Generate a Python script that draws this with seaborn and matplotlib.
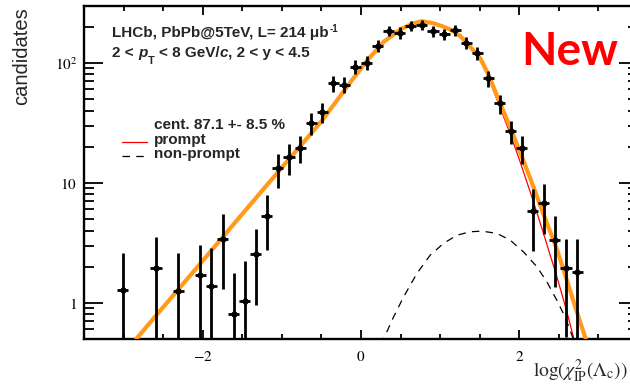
import numpy as np
import matplotlib
matplotlib.use("Agg")
import matplotlib.pyplot as plt
import matplotlib.ticker as mticker
from matplotlib.lines import Line2D
import seaborn as sns

# binned data: bin centres, weighted candidates, errors
bin_x = [-3.01, -2.59, -2.31, -2.03, -1.89, -1.75, -1.61, -1.47, -1.33, -1.19,
         -1.05, -0.91, -0.77, -0.63, -0.49, -0.35, -0.21, -0.07, 0.07, 0.21,
         0.35, 0.49, 0.63, 0.77, 0.91, 1.05, 1.19, 1.33, 1.47, 1.61,
         1.75, 1.89, 2.03, 2.17, 2.31, 2.45, 2.59, 2.73]
counts = [1.29, 1.96, 1.26, 1.70, 1.38, 3.40, 0.80, 1.03, 2.55, 5.31,
          13.2, 16.3, 19.6, 31.4, 39.0, 67.3, 65.6, 92.6, 100, 138.6,
          184.8, 177.8, 203.4, 206, 183.7, 173.4, 187.3, 146.8, 121.2, 74.1,
          45.9, 27.0, 19.4, 5.81, 6.74, 3.33, 1.96, 1.81]
errs = [1.32, 1.55, 1.32, 1.31, 1.48, 2.09, 0.96, 1.21, 1.59, 2.55,
        4.1, 4.6, 5.1, 6.6, 7.3, 10.0, 10.0, 12, 13, 16,
        19, 19, 20, 20, 19, 18, 19, 17, 15, 11,
        8.3, 6.0, 5.0, 3.1, 3.0, 1.98, 1.44, 1.59]
bin_half = 0.07

# fit components
total_x = [-2.84, -2.5, -2.0, -1.5, -1.0, -0.5, -0.14, 0.08, 0.29, 0.5, 0.65, 0.77, 0.92, 1.04,
           1.13, 1.25, 1.38, 1.51, 1.61, 1.74, 1.89, 2.01, 2.16, 2.30, 2.475, 2.6, 2.72, 2.84]
total_y = [0.5, 0.92, 2.24, 5.5, 13.4, 32.5, 68, 105, 150, 190, 212, 222, 213, 200,
           189, 168, 136, 108, 80, 49, 28.5, 18.0, 10.0, 5.6, 2.8, 1.55, 0.87, 0.5]
prompt_x = [-2.84, -2.5, -2.0, -1.5, -1.0, -0.5, -0.14, 0.08, 0.29, 0.5, 0.65, 0.77, 0.92, 1.04,
            1.13, 1.25, 1.38, 1.51, 1.61, 1.74, 1.89, 2.01, 2.16, 2.30, 2.475, 2.6, 2.69]
prompt_y = [0.5, 0.92, 2.24, 5.5, 13.4, 32.5, 68, 105, 149, 189, 210, 220, 210, 197,
            186, 165, 132, 104, 76, 45.2, 25.1, 15.0, 7.6, 3.9, 1.65, 0.85, 0.5]
nonprompt_x = [0.25, 0.286, 0.41, 0.538, 0.707, 0.875, 1.043, 1.212, 1.38, 1.528, 1.717,
               1.885, 2.053, 2.222, 2.348, 2.475, 2.58, 2.664, 2.70]
nonprompt_y = [0.45, 0.5, 0.76, 1.12, 1.76, 2.50, 3.13, 3.66, 3.91, 3.96, 3.79,
               3.33, 2.66, 2.0, 1.50, 1.05, 0.76, 0.54, 0.47]

x_ticks = [-2, 0, 2]
x_labels = ["$-2$", "$0$", "$2$"]
y_ticks = [1, 10, 100]
y_labels = ["$1$", "$10$", "$10^{2}$"]

sns.set_style("ticks")
plt.rcParams["mathtext.fontset"] = "stix"
SANS = ["Liberation Sans", "DejaVu Sans"]

W, H = 630, 389
fig = plt.figure(figsize=(W / 100, H / 100), dpi=100)
ax = fig.add_axes([84 / W, 50 / H, 554 / W, 333.5 / H])
ax.set_yscale("log")

orange = "#ff9a1a"
sns.lineplot(x=prompt_x, y=prompt_y, ax=ax, color="red", lw=0.9, zorder=2)
sns.lineplot(x=total_x, y=total_y, ax=ax, color=orange, lw=3.0, zorder=3)
sns.lineplot(x=nonprompt_x, y=nonprompt_y, ax=ax, color="black", lw=0.9,
             linestyle=(0, (6, 5)), zorder=3)
ax.errorbar(bin_x, counts, xerr=bin_half, yerr=errs, fmt="o", ms=3.5, color="black",
            ecolor="black", elinewidth=2, capsize=0, zorder=4)

ax.set_xlim(-3.5, 3.5)
ax.set_ylim(0.5, 300)
ax.set_xlabel("")
ax.set_ylabel("")

ax.xaxis.set_major_locator(mticker.FixedLocator(x_ticks))
ax.xaxis.set_major_formatter(mticker.FixedFormatter(x_labels))
ax.xaxis.set_minor_locator(mticker.MultipleLocator(0.5))
ax.yaxis.set_major_locator(mticker.FixedLocator(y_ticks))
ax.yaxis.set_major_formatter(mticker.FixedFormatter(y_labels))
ax.yaxis.set_minor_locator(mticker.LogLocator(base=10, subs=(2, 3, 4, 5, 6, 7, 8, 9), numticks=12))
ax.yaxis.set_minor_formatter(mticker.NullFormatter())

ax.tick_params(which="both", direction="in", top=True, right=True, width=1.3,
               color="black", labelsize=11, labelcolor="black")
ax.tick_params(axis="y", which="major", length=13.5, pad=5)
ax.tick_params(axis="y", which="minor", length=7)
ax.tick_params(axis="x", which="major", length=6.5, pad=7)
ax.tick_params(axis="x", which="minor", length=3.3)
for sp in ax.spines.values():
    sp.set_linewidth(1.7)
    sp.set_color("black")

# axis titles
fig.text(22 / W, 1 - 7 / H, "candidates", rotation=90, ha="center", va="top",
         fontsize=14.5, family=SANS)
fig.text(628 / W, 1 - 376.7 / H, r"${\rm log}(\chi^{2}_{\rm IP}(\Lambda_{\rm c}))$",
         ha="right", va="baseline", fontsize=14)

# header text built from runs (text, size, style, lift px, gap px after)
renderer = fig.canvas.get_renderer()
SP = 0.278 * 11 * 100 / 72


def write_runs(x_px, base_px, runs):
    for txt, size, style, lift, gap in runs:
        t = fig.text(x_px / W, 1 - (base_px - lift) / H, txt, fontsize=size,
                     fontweight="bold", fontstyle=style, family=SANS, va="baseline")
        x_px += t.get_window_extent(renderer).width + gap


write_runs(112, 37.3, [("LHCb, PbPb@5TeV, L= 214 μb", 11, "normal", 0, 0.5),
                       ("-1", 7, "normal", 5, 0)])
write_runs(112, 56.7, [("2 <", 11, "normal", 0, SP),
                       ("p", 11, "italic", 0, 0.5),
                       ("T", 8, "normal", -7, SP),
                       ("< 8 GeV/", 11, "normal", 0, 0),
                       ("c", 11, "italic", 0, 0),
                       (", 2 < y < 4.5", 11, "normal", 0, 0)])

# legend
fig.text(154 / W, 1 - 129 / H, "cent. 87.1 +- 8.5 %", fontsize=11, fontweight="bold",
         family=SANS, va="baseline")
fig.text(154 / W, 1 - 144 / H, "prompt", fontsize=11, fontweight="bold",
         family=SANS, va="baseline")
fig.text(154 / W, 1 - 158 / H, "non-prompt", fontsize=11, fontweight="bold",
         family=SANS, va="baseline")
fig.add_artist(Line2D([122 / W, 147 / W], [1 - 141.7 / H] * 2, color="red", lw=0.9))
fig.add_artist(Line2D([122 / W, 147 / W], [1 - 156 / H] * 2, color="black", lw=0.9,
                      linestyle=(0, (6, 5))))

fig.text(521.7 / W, 1 - 65 / H, "New", color="red", fontsize=33, fontweight="bold",
         family=["Lato", "DejaVu Sans"], va="baseline")

fig.savefig("out.png", dpi=100)
